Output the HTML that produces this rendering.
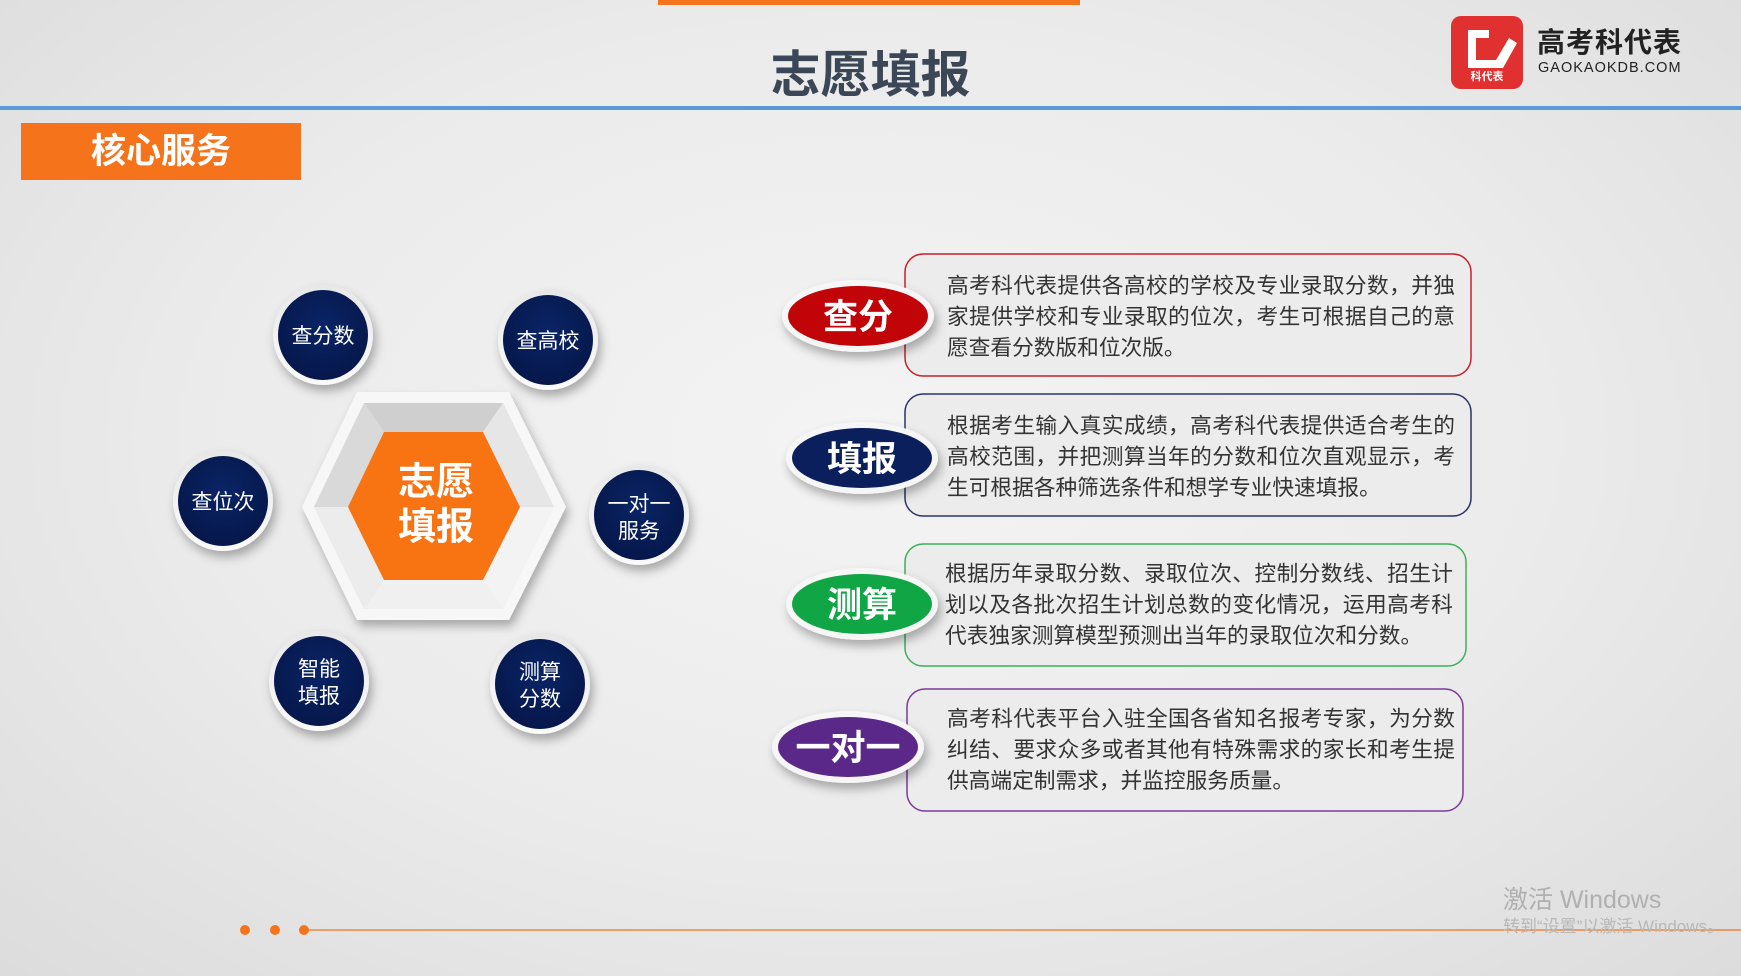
<!DOCTYPE html>
<html><head><meta charset="utf-8"><style>
html,body{margin:0;padding:0}
body{width:1741px;height:976px;overflow:hidden;position:relative;font-family:"Liberation Sans","Noto Sans CJK SC",sans-serif;background:radial-gradient(ellipse at 50% 45%,#f4f4f4 0%,#ebebeb 55%,#dcdcdc 100%)}
.abs{position:absolute}
.t{position:absolute;font-size:21.7px;line-height:31px;color:#333;width:508px;text-align:justify}
</style></head><body>
<div class="abs" style="left:658px;top:0;width:422px;height:5px;background:#f5731a"></div>
<div class="abs" style="left:0;top:39px;width:1741px;text-align:center;font-size:50px;font-weight:bold;color:#3b4756;line-height:72px">志愿填报</div>
<div class="abs" style="left:0;top:106px;width:1741px;height:4px;background:#5b9bd5"></div>
<div class="abs" style="left:21px;top:123px;width:280px;height:57px;background:#f5731a;color:#fff;font-size:35px;font-weight:bold;line-height:57px;text-align:center">核心服务</div>
<div class="abs" style="left:1451px;top:16px;width:72px;height:73px;background:#e0302f;border-radius:10px"></div>
<svg class="abs" style="left:1451px;top:16px" width="72" height="73"><path d="M17 14 H38 V22 H25 V44 H45 L58 22 L66 27 L52 52 H17 Z" fill="#fff"/><text x="36" y="64" font-size="11" font-weight="bold" fill="#fff" text-anchor="middle" font-family="Noto Sans CJK SC">科代表</text></svg>
<div class="abs" style="left:1537px;top:27px;font-size:28px;font-weight:bold;color:#222;line-height:32px;letter-spacing:1px">高考科代表</div>
<div class="abs" style="left:1538px;top:60px;font-size:14.5px;color:#222;letter-spacing:1px">GAOKAOKDB.COM</div>

<svg class="abs" style="left:0;top:0" width="1741" height="976">
<defs>
<filter id="sh" x="-30%" y="-30%" width="170%" height="170%"><feDropShadow dx="3" dy="6" stdDeviation="5" flood-color="#000" flood-opacity="0.3"/></filter>
<radialGradient id="nv" cx="50%" cy="40%" r="60%"><stop offset="0" stop-color="#0a2466"/><stop offset="1" stop-color="#06174a"/></radialGradient>
<linearGradient id="rim" x1="0" y1="0" x2="0" y2="1"><stop offset="0" stop-color="#e8e8e8"/><stop offset="1" stop-color="#fafafa"/></linearGradient>
</defs>
<polygon points="302,507 357,392 509,392 566,507 509,620 357,620" fill="#f7f7f7" filter="url(#sh)"/>
<polygon points="314,507 364,403 503,403 554,507 503,609 364,609" fill="#e0e0e0"/>
<polygon points="364,403 503,403 483,432 384,432" fill="#cfcfcf"/>
<polygon points="314,507 364,403 384,432 348,507" fill="#d9d9d9"/>
<polygon points="503,403 554,507 520,507 483,432" fill="#e6e6e6"/>
<polygon points="554,507 503,609 483,580 520,507" fill="#f3f3f3"/>
<polygon points="364,609 503,609 483,580 384,580" fill="#f0f0f0"/>
<polygon points="348,507 384,580 364,609 314,507" fill="#ececec"/>
<polygon points="348,507 384,432 483,432 520,507 483,580 384,580" fill="#f87312"/>
<text x="436" y="484" font-size="38" font-weight="bold" fill="#fff" text-anchor="middle" dominant-baseline="middle" font-family="Noto Sans CJK SC">志愿</text>
<text x="436" y="529" font-size="38" font-weight="bold" fill="#fff" text-anchor="middle" dominant-baseline="middle" font-family="Noto Sans CJK SC">填报</text>
<g font-family="Noto Sans CJK SC" font-size="21" fill="#fff" text-anchor="middle">
<g transform="translate(323,335)"><circle r="50" fill="url(#rim)" filter="url(#sh)"/><circle r="45" fill="url(#nv)"/><text y="8">查分数</text></g>
<g transform="translate(548,340)"><circle r="50" fill="url(#rim)" filter="url(#sh)"/><circle r="45" fill="url(#nv)"/><text y="8">查高校</text></g>
<g transform="translate(223,501)"><circle r="50" fill="url(#rim)" filter="url(#sh)"/><circle r="45" fill="url(#nv)"/><text y="8">查位次</text></g>
<g transform="translate(639,515)"><circle r="50" fill="url(#rim)" filter="url(#sh)"/><circle r="45" fill="url(#nv)"/><text y="-4">一对一</text><text y="23">服务</text></g>
<g transform="translate(319,681)"><circle r="50" fill="url(#rim)" filter="url(#sh)"/><circle r="45" fill="url(#nv)"/><text y="-5">智能</text><text y="22">填报</text></g>
<g transform="translate(540,684)"><circle r="50" fill="url(#rim)" filter="url(#sh)"/><circle r="45" fill="url(#nv)"/><text y="-5">测算</text><text y="22">分数</text></g>
</g>
<rect x="905" y="254" width="566" height="122" rx="18" fill="#ececec" stroke="#c8202a" stroke-width="1.5"/>
<rect x="905" y="394" width="566" height="122" rx="18" fill="#ececec" stroke="#2a3468" stroke-width="1.5"/>
<rect x="905" y="544" width="561" height="122" rx="18" fill="#ececec" stroke="#3cb05a" stroke-width="1.5"/>
<rect x="907" y="689" width="556" height="122" rx="18" fill="#ececec" stroke="#7a3a9a" stroke-width="1.5"/>
<g font-family="Noto Sans CJK SC" font-size="35" font-weight="bold" fill="#fff" text-anchor="middle">
<g transform="translate(858,316)"><ellipse rx="76" ry="36" fill="#f6f6f6" filter="url(#sh)"/><ellipse rx="70" ry="30" fill="#c00408"/><text y="13">查分</text></g>
<g transform="translate(862,458)"><ellipse rx="76" ry="36" fill="#f6f6f6" filter="url(#sh)"/><ellipse rx="70" ry="30" fill="#0a1f5c"/><text y="13">填报</text></g>
<g transform="translate(862,604)"><ellipse rx="76" ry="36" fill="#f6f6f6" filter="url(#sh)"/><ellipse rx="70" ry="30" fill="#10a545"/><text y="13">测算</text></g>
<g transform="translate(848,747)"><ellipse rx="76" ry="36" fill="#f6f6f6" filter="url(#sh)"/><ellipse rx="70" ry="30" fill="#5a2888"/><text y="13">一对一</text></g>
</g>
<line x1="304" y1="930" x2="1741" y2="930" stroke="#f5731a" stroke-width="1.2"/>
<circle cx="245" cy="930" r="5" fill="#f5731a"/><circle cx="275" cy="930" r="5" fill="#f5731a"/><circle cx="304" cy="930" r="5" fill="#f5731a"/>
</svg>
<div class="t" style="left:947px;top:270px">高考科代表提供各高校的学校及专业录取分数，并独家提供学校和专业录取的位次，考生可根据自己的意愿查看分数版和位次版。</div>
<div class="t" style="left:947px;top:410px">根据考生输入真实成绩，高考科代表提供适合考生的高校范围，并把测算当年的分数和位次直观显示，考生可根据各种筛选条件和想学专业快速填报。</div>
<div class="t" style="left:945px;top:558px">根据历年录取分数、录取位次、控制分数线、招生计划以及各批次招生计划总数的变化情况，运用高考科代表独家测算模型预测出当年的录取位次和分数。</div>
<div class="t" style="left:947px;top:703px">高考科代表平台入驻全国各省知名报考专家，为分数纠结、要求众多或者其他有特殊需求的家长和考生提供高端定制需求，并监控服务质量。</div>
<div class="abs" style="left:1503px;top:880px;font-size:25px;color:#b0b0b0">激活 Windows</div>
<div class="abs" style="left:1503px;top:912px;font-size:17px;color:#b8b8b8;white-space:nowrap">转到“设置”以激活 Windows。</div>
</body></html>
